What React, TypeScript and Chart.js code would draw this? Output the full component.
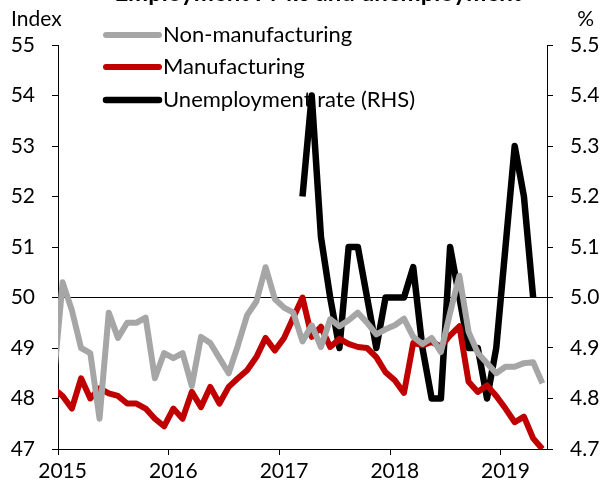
import React, { useEffect, useRef } from 'react';
import { Chart, registerables } from 'chart.js';

Chart.register(...registerables);

// Months: Dec 2014 .. May 2019 (index 0 = Dec 2014)
const months: string[] = (() => {
  const out: string[] = [];
  for (let y = 2014; y <= 2019; y++) {
    for (let m = 1; m <= 12; m++) {
      if (y === 2014 && m < 12) continue;
      if (y === 2019 && m > 5) continue;
      out.push(`${y}-${String(m).padStart(2, '0')}`);
    }
  }
  return out;
})();

const yearLabels = ['2015', '2016', '2017', '2018', '2019'];
const yearTickPositions = [0.5, 12.5, 24.5, 36.5, 48.5];
const leftTicks = [47, 48, 49, 50, 51, 52, 53, 54, 55];
const rightTicks = [4.7, 4.8, 4.9, 5.0, 5.1, 5.2, 5.3, 5.4, 5.5];

const nonManufacturing: number[] = [
  48.3,
  50.3, 49.75, 49.0, 48.9, 47.6, 49.7, 49.2, 49.5, 49.5, 49.6, 48.4, 48.9,
  48.8, 48.9, 48.25, 49.22, 49.1, 48.8, 48.5, 49.05, 49.65, 49.92, 50.6, 49.97,
  49.8, 49.7, 49.13, 49.45, 49.02, 49.57, 49.43, 49.55, 49.7, 49.5, 49.27, 49.37,
  49.45, 49.58, 49.22, 49.08, 49.2, 48.92, 49.7, 50.43, 49.32, 48.9, 48.7, 48.5,
  48.63, 48.63, 48.7, 48.72, 48.3,
];

const manufacturing: number[] = [
  48.2,
  48.05, 47.8, 48.4, 48.0, 48.2, 48.1, 48.05, 47.9, 47.9, 47.8, 47.6, 47.45,
  47.8, 47.6, 48.13, 47.83, 48.23, 47.9, 48.23, 48.4, 48.56, 48.82, 49.2, 48.95,
  49.2, 49.6, 50.0, 49.22, 49.42, 49.02, 49.18, 49.08, 49.02, 49.0, 48.82, 48.52,
  48.36, 48.11, 49.1, 49.05, 49.12, 49.03, 49.25, 49.43, 48.33, 48.13, 48.26, 48.05,
  47.8, 47.53, 47.64, 47.21, 47.0,
];

const unemploymentRate: (number | null)[] = [
  null,
  null, null, null, null, null, null, null, null, null, null, null, null,
  null, null, null, null, null, null, null, null, null, null, null, null,
  null, null, 5.2, 5.4, 5.12, 5.0, 4.9, 5.1, 5.1, 5.0, 4.9, 5.0,
  5.0, 5.0, 5.06, 4.9, 4.8, 4.8, 5.1, 5.0, 4.9, 4.9, 4.8, 4.9,
  5.1, 5.3, 5.2, 5.0, null,
];

const legendItems = [
  { label: 'Non-manufacturing', color: '#A6A6A6', width: 6 },
  { label: 'Manufacturing', color: '#C00000', width: 6 },
  { label: 'Unemployment rate (RHS)', color: '#000000', width: 6.5 },
];

const titleText = 'Employment PMIs and unemployment';
const FONT = 'Lato, "Open Sans", sans-serif';

const toPoints = (arr: (number | null)[]) =>
  arr.map((v, i) => ({ x: i, y: v })).filter((p) => p.y !== null);

export default function App() {
  const ref = useRef<HTMLCanvasElement | null>(null);

  useEffect(() => {
    if (!ref.current) return;

    const decor = {
      id: 'decor',
      beforeDatasetsDraw(chart: any) {
        const ctx = chart.ctx;
        ctx.save();
        const rows = [35, 67, 100];
        legendItems.forEach((it, k) => {
          const y = rows[k];
          ctx.strokeStyle = it.color;
          ctx.lineWidth = it.width;
          ctx.lineCap = 'round';
          ctx.beginPath();
          ctx.moveTo(106, y);
          ctx.lineTo(159, y);
          ctx.stroke();
          ctx.fillStyle = '#000';
          ctx.font = `22px ${FONT}`;
          ctx.textBaseline = 'middle';
          ctx.textAlign = 'left';
          ctx.fillText(it.label, 163, y);
        });
        ctx.restore();
      },
      afterDraw(chart: any) {
        const ctx = chart.ctx;
        ctx.save();
        ctx.fillStyle = '#000';
        ctx.font = `21px ${FONT}`;
        ctx.textBaseline = 'middle';
        ctx.textAlign = 'left';
        ctx.fillText('Index', 11, 19);
        ctx.textAlign = 'right';
        ctx.fillText('%', 594, 19);
        ctx.font = `bold 24px ${FONT}`;
        ctx.textAlign = 'center';
        ctx.textBaseline = 'alphabetic';
        ctx.fillText(titleText, 318, 1);
        ctx.restore();
      },
    };

    const chart = new Chart(ref.current, {
      type: 'line',
      data: {
        labels: months,
        datasets: [
          {
            label: 'Non-manufacturing',
            data: toPoints(nonManufacturing) as any,
            borderColor: '#A6A6A6',
            borderWidth: 6,
            pointRadius: 0,
            borderJoinStyle: 'round',
            yAxisID: 'y',
            clip: 0 as any,
          },
          {
            label: 'Manufacturing',
            data: toPoints(manufacturing) as any,
            borderColor: '#C00000',
            borderWidth: 6,
            pointRadius: 0,
            borderJoinStyle: 'round',
            yAxisID: 'y',
            clip: 0 as any,
          },
          {
            label: 'Unemployment rate (RHS)',
            data: toPoints(unemploymentRate) as any,
            borderColor: '#000000',
            borderWidth: 6.5,
            pointRadius: 0,
            borderJoinStyle: 'round',
            yAxisID: 'y2',
            clip: 0 as any,
          },
        ],
      },
      options: {
        animation: false,
        responsive: false,
        layout: { padding: { top: 45, left: 0, right: 0, bottom: 0 } },
        plugins: { legend: { display: false }, tooltip: { enabled: false } },
        scales: {
          x: {
            type: 'linear',
            min: 0.5,
            max: 53.5,
            afterBuildTicks: (scale: any) => {
              scale.ticks = yearTickPositions.map((value) => ({ value }));
            },
            afterFit: (scale: any) => {
              scale.height = 40;
            },
            ticks: {
              autoSkip: false,
              maxRotation: 0,
              labelOffset: 4.6,
              padding: 4,
              color: '#000',
              font: { family: FONT, size: 21 },
              callback: (_v: any, idx: number) => yearLabels[idx],
            },
            grid: {
              drawOnChartArea: false,
              drawTicks: true,
              tickLength: 6,
              color: '#000',
            },
            border: { display: true, color: '#000', width: 1 },
          },
          y: {
            position: 'left',
            min: 47,
            max: 55,
            afterBuildTicks: (scale: any) => {
              scale.ticks = leftTicks.map((value) => ({ value }));
            },
            afterFit: (scale: any) => {
              scale.width = 58;
            },
            ticks: {
              padding: 17,
              color: '#000',
              font: { family: FONT, size: 21 },
              callback: (v: any) => String(v),
            },
            grid: {
              drawOnChartArea: true,
              color: (ctx: any) => (ctx.tick && ctx.tick.value === 50 ? '#000' : 'rgba(0,0,0,0)'),
              tickColor: '#000',
              tickLength: 6,
              lineWidth: 1,
            },
            border: { display: true, color: '#000', width: 1 },
          },
          y2: {
            position: 'right',
            min: 4.7,
            max: 5.5,
            afterBuildTicks: (scale: any) => {
              scale.ticks = rightTicks.map((value) => ({ value }));
            },
            afterFit: (scale: any) => {
              scale.width = 54;
            },
            ticks: {
              padding: 17,
              color: '#000',
              font: { family: FONT, size: 21 },
              callback: (v: any) => Number(v).toFixed(1),
            },
            grid: {
              drawOnChartArea: false,
              color: '#000',
              tickLength: 6,
            },
            border: { display: true, color: '#000', width: 1 },
          },
        },
      },
      plugins: [decor],
    } as any);

    return () => chart.destroy();
  }, []);

  return (
    <div style={{ position: 'fixed', left: 0, top: 0, width: 601, height: 489, background: '#fff' }}>
      <canvas ref={ref} width={601} height={489} style={{ display: 'block' }} />
    </div>
  );
}
